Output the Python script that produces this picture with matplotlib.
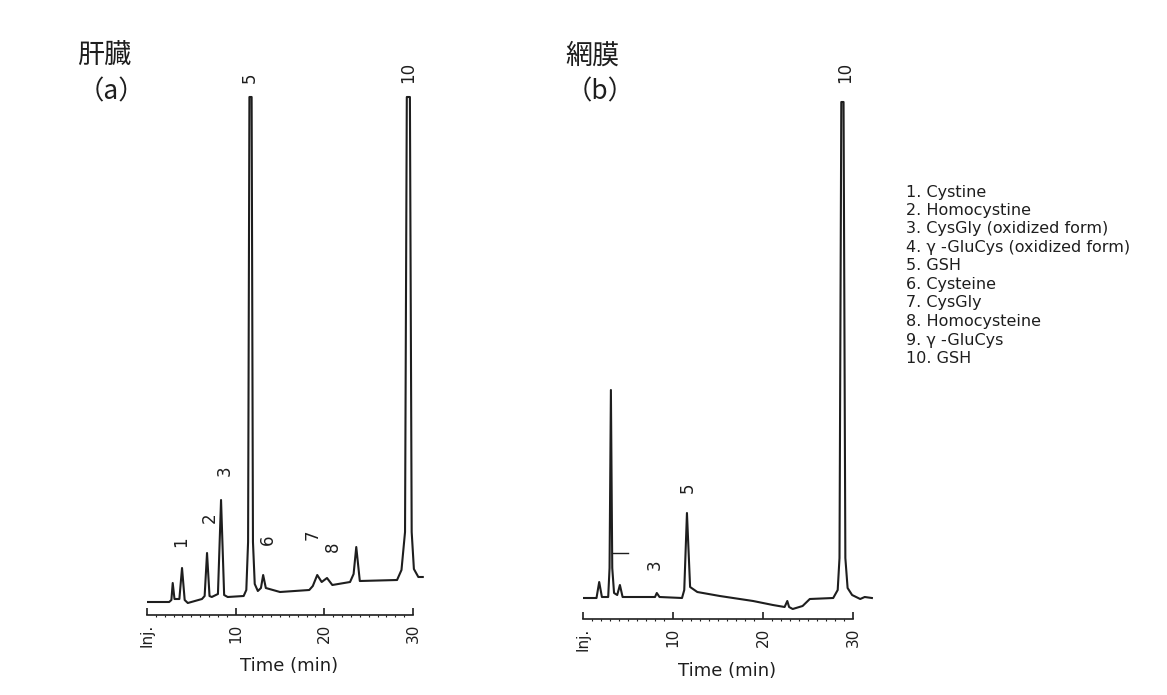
import matplotlib
matplotlib.use("Agg")
import matplotlib.pyplot as plt

# chromatogram traces (time in min, detector signal in a.u.)
liver_t = [0, 2.5, 2.75, 2.9, 3.1, 3.65, 3.95, 4.25, 4.6, 6.2, 6.5, 6.77, 7.05, 7.3,
           8.0, 8.35, 8.7, 9.1, 10.9, 11.2, 11.4, 11.55, 11.8, 11.95, 12.15, 12.5,
           12.85, 13.1, 13.4, 15.0, 18.3, 18.7, 19.2, 19.7, 20.3, 20.9, 22.9, 23.3,
           23.6, 24.0, 28.2, 28.7, 29.1, 29.3, 29.65, 29.85, 30.1, 30.6, 31.1]
liver_sig = [0, 0, 2, 19, 3, 3, 34, 2, -1, 3, 6, 49, 6, 5,
             8, 102, 7, 5, 6, 12, 60, 505, 505, 60, 18, 11,
             14, 27, 14, 10, 12, 16, 27, 20, 24, 17, 20, 28,
             55, 21, 22, 32, 70, 505, 505, 70, 33, 25, 25]

retina_t = [0, 1.5, 1.8, 2.1, 2.8, 2.95, 3.1, 3.25, 3.45, 3.8, 4.1, 4.4, 8.0, 8.2,
            8.5, 11.0, 11.25, 11.55, 11.9, 12.7, 15.2, 18.9, 21.1, 22.4, 22.7, 22.9,
            23.3, 24.4, 25.2, 27.8, 28.3, 28.5, 28.7, 28.95, 29.15, 29.4, 29.9, 30.8,
            31.3, 32.1]
retina_sig = [0, 0, 16, 1, 1, 30, 208, 30, 5, 3, 13, 1, 1, 5,
              1, 0, 8, 85, 11, 6, 2, -3, -7, -9, -3, -9,
              -11, -8, -1, 0, 8, 40, 496, 496, 40, 10, 3, -1,
              1, 0]

liver_peaks = ['1', '2', '3', '5', '6', '7', '8', '10']
liver_peak_t = [3.8, 7.1, 8.8, 11.6, 13.6, 18.7, 21.0, 29.4]
liver_peak_y = [60, 84, 131, 524, 62, 67, 55, 530]

retina_peaks = ['3', '5', '10']
retina_peak_t = [8.0, 11.6, 29.1]
retina_peak_y = [33, 110, 526]

tick_pos = [0, 10, 20, 30]
tick_labels = ['Inj.', '10', '20', '30']

legend_items = ['1. Cystine', '2. Homocystine', '3. CysGly (oxidized form)',
                '4. \u03b3 -GluCys (oxidized form)', '5. GSH', '6. Cysteine',
                '7. CysGly', '8. Homocysteine', '9. \u03b3 -GluCys', '10. GSH']

W, H = 1167, 695
ink = '#1e1e1e'
plt.rcParams['font.family'] = ['DejaVu Sans']

fig = plt.figure(figsize=(W / 100, H / 100), dpi=100)
fig.patch.set_facecolor('white')


def px_axes(x0, x1, ytop, ybot):
    return fig.add_axes([x0 / W, 1 - ybot / H, (x1 - x0) / W, (ybot - ytop) / H])


def style(ax, xlim, ylim):
    ax.set_xlim(*xlim)
    ax.set_ylim(*ylim)
    for s in ['left', 'right', 'top']:
        ax.spines[s].set_visible(False)
    ax.spines['bottom'].set_bounds(0, 30)
    ax.spines['bottom'].set_color(ink)
    ax.spines['bottom'].set_linewidth(1.2)
    ax.set_yticks([])
    ax.set_xticks(tick_pos)
    ax.set_xticklabels(tick_labels, rotation=90, fontsize=11, color=ink)
    ax.set_xticks(range(1, 30), minor=True)
    ax.tick_params(axis='x', which='major', direction='in', length=5, width=1.2,
                   color=ink, pad=6)
    ax.tick_params(axis='x', which='minor', direction='out', length=1.5, width=0.8,
                   color=ink)
    ax.patch.set_alpha(0)


# (a) liver
ax1 = px_axes(147, 147 + 31.5 * 8.867, 87, 615)
ax1.plot(liver_t, liver_sig, color=ink, lw=1.5)
style(ax1, (0, 31.5), (-13, 515))
for lab, t, y in zip(liver_peaks, liver_peak_t, liver_peak_y):
    ax1.text(t, y, lab, rotation=90, ha='center', va='center', fontsize=12, color=ink)

# (b) retina
ax2 = px_axes(583, 583 + 32.5 * 9.0, 87, 619)
ax2.plot(retina_t, retina_sig, color=ink, lw=1.5)
ax2.plot([3.2, 5.0], [45, 45], color=ink, lw=1.0)
style(ax2, (0, 32.5), (-21, 511))
for lab, t, y in zip(retina_peaks, retina_peak_t, retina_peak_y):
    ax2.text(t, y, lab, rotation=90, ha='center', va='center', fontsize=12, color=ink)

fig.text(289 / W, 1 - 666 / H, 'Time (min)', ha='center', va='center', fontsize=13, color=ink)
fig.text(727 / W, 1 - 671 / H, 'Time (min)', ha='center', va='center', fontsize=13, color=ink)

cjk = ['Noto Sans CJK JP', 'DejaVu Sans']
fig.text(104 / W, 1 - 55 / H, '肝臓', ha='center', va='center', fontsize=19.5, family=cjk, color=ink)
fig.text(111 / W, 1 - 92 / H, '（a）', ha='center', va='center', fontsize=19, family=cjk, color=ink)
fig.text(592 / W, 1 - 56 / H, '網膜', ha='center', va='center', fontsize=19.5, family=cjk, color=ink)
fig.text(600 / W, 1 - 92 / H, '（b）', ha='center', va='center', fontsize=19, family=cjk, color=ink)

for i, item in enumerate(legend_items):
    fig.text(906 / W, 1 - (192 + i * 18.5) / H, item, ha='left', va='center',
             fontsize=11.5, color=ink)

fig.savefig('out.png', dpi=100, facecolor='white')
